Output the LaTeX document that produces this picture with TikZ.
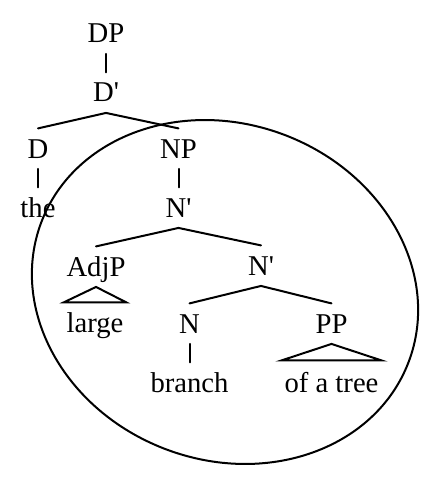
\documentclass[tikz,border=0pt]{standalone}
\usepackage{fontspec}
\setmainfont{Liberation Serif}[Ligatures=TeXOff]
\begin{document}
\begin{tikzpicture}[x=0.75pt,y=-0.75pt,
  lab/.style={anchor=base,inner xsep=2pt,inner ysep=8pt,text height=14pt,text depth=0pt,
    font=\fontsize{21.5pt}{25pt}\selectfont},
  edge/.style={line width=1.5pt,line cap=round},
  tri/.style={line width=1.5pt,line join=miter}]
\useasboundingbox (0,0) rectangle (441,481);
\node[lab] (DP) at (106,43) {DP};
\node[lab] (Dbar) at (106,102) {D'};
\node[lab] (D) at (38,158) {D};
\node[lab] (NP) at (178.5,158) {NP};
\node[lab] (the) at (38,217) {the};
\node[lab] (Nbar) at (178.5,217) {N'};
\node[lab] (AdjP) at (96,276) {AdjP};
\node[lab] (Nbarb) at (261,275) {N'};
\node[lab] (large) at (95,332) {large};
\node[lab] (N) at (189.5,333) {N};
\node[lab] (PP) at (331.5,333) {PP};
\node[lab] (branch) at (189.5,392) {branch};
\node[lab] (tree) at (331.5,392) {of a tree};
\draw[edge] (DP.south) -- (Dbar.north);
\draw[edge] (D.north) -- (Dbar.south) -- (NP.north);
\draw[edge] (D.south) -- (the.north);
\draw[edge] (NP.south) -- (Nbar.north);
\draw[edge] (AdjP.north) -- (Nbar.south) -- (Nbarb.north);
\draw[edge] (N.north) -- (Nbarb.south) -- (PP.north);
\draw[edge] (N.south) -- (branch.north);
\draw[tri] (large.north west) -- (AdjP.south) -- (large.north east) -- cycle;
\draw[tri] ([yshift=1.5pt]tree.north west) -- (PP.south) -- ([yshift=1.5pt]tree.north east) -- cycle;
\draw[line width=1.5pt,rotate around={-21:(225,292)}] (225,292) ellipse [x radius=196.5, y radius=168];
\end{tikzpicture}
\end{document}
